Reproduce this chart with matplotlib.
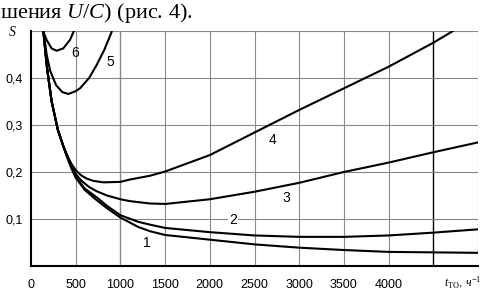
import numpy as np
import matplotlib.pyplot as plt

plt.rcParams['font.family'] = ['Liberation Sans', 'DejaVu Sans']
plt.rcParams['mathtext.fontset'] = 'custom'
plt.rcParams['mathtext.rm'] = 'Liberation Serif'
plt.rcParams['mathtext.it'] = 'Liberation Serif:italic'

# curves 1-4 share the steep left branch
x_left = [138, 180, 231, 300, 361]
y_left = [0.50, 0.42, 0.35, 0.29, 0.255]

c1_x = x_left + [400, 450, 500, 600, 735, 850, 1000, 1200, 1331, 1500, 2000, 2500, 3000, 3500, 4000, 4500, 5000]
c1_y = y_left + [0.234, 0.209, 0.188, 0.162, 0.140, 0.123, 0.103, 0.083, 0.074, 0.066, 0.056, 0.046, 0.039, 0.034, 0.030, 0.029, 0.028]

c2_x = x_left + [400, 450, 500, 600, 735, 850, 1000, 1200, 1331, 1500, 2000, 2500, 3000, 3500, 4000, 4500, 5000]
c2_y = y_left + [0.234, 0.210, 0.190, 0.165, 0.146, 0.128, 0.108, 0.094, 0.088, 0.081, 0.072, 0.065, 0.062, 0.062, 0.065, 0.071, 0.078]

c3_x = x_left + [400, 450, 500, 560, 650, 735, 850, 1000, 1107, 1331, 1500, 2000, 2500, 3000, 3500, 4000, 4500, 5000]
c3_y = y_left + [0.236, 0.213, 0.196, 0.182, 0.168, 0.159, 0.150, 0.142, 0.138, 0.133, 0.132, 0.142, 0.158, 0.177, 0.200, 0.220, 0.242, 0.263]

c4_x = x_left + [400, 450, 500, 560, 623, 700, 809, 1000, 1107, 1331, 1500, 2000, 2500, 3000, 3500, 4000, 4500, 4720]
c4_y = y_left + [0.238, 0.218, 0.204, 0.193, 0.186, 0.181, 0.178, 0.179, 0.184, 0.192, 0.201, 0.236, 0.284, 0.332, 0.378, 0.424, 0.475, 0.500]

c5_x = [140, 175, 215, 280, 350, 418, 500, 548, 650, 735, 820, 902]
c5_y = [0.500, 0.450, 0.415, 0.385, 0.370, 0.366, 0.372, 0.378, 0.400, 0.428, 0.460, 0.498]

c6_x = [134, 175, 230, 287, 361, 436, 480]
c6_y = [0.500, 0.481, 0.463, 0.458, 0.463, 0.481, 0.500]

curve_names = ['1', '2', '3', '4', '5', '6']
label_x = [1298, 2260, 2852, 2696, 884, 492]
label_y = [0.049, 0.098, 0.145, 0.268, 0.434, 0.453]

xticks = [0, 500, 1000, 1500, 2000, 2500, 3000, 3500, 4000]
yticks = [0.1, 0.2, 0.3, 0.4]
ytick_labels = ['0,1', '0,2', '0,3', '0,4']

fig = plt.figure(figsize=(4.82, 2.91), dpi=100)
ax = fig.add_axes([31/482, 1 - 266/291, 447/482, 235/291])

# grid
for gx in range(500, 5001, 500):
    col = 'black' if gx == 4500 else '#888888'
    lw = 1.0 if gx in (1000, 4500) else 0.8
    ax.axvline(gx, color=col, lw=lw, zorder=1)
for gy in [0.1, 0.2, 0.3, 0.4, 0.5]:
    ax.axhline(gy, color='#888888', lw=0.8, zorder=1)

for xs, ys in [(c1_x, c1_y), (c2_x, c2_y), (c3_x, c3_y), (c4_x, c4_y), (c5_x, c5_y), (c6_x, c6_y)]:
    ax.plot(xs, ys, color='black', lw=1.5, zorder=3, solid_joinstyle='round')

for name, lx, ly in zip(curve_names, label_x, label_y):
    bbox = dict(facecolor='white', edgecolor='none', pad=1) if name == '2' else None
    ax.text(lx, ly, name, fontsize=10, ha='center', va='center', zorder=4, bbox=bbox)

ax.set_xlim(0, 5000)
ax.set_ylim(0, 0.5)
ax.set_xticks(xticks)
ax.set_xticklabels([str(t) for t in xticks])
ax.set_yticks(yticks)
ax.set_yticklabels(ytick_labels)
ax.tick_params(length=0, labelsize=9)
ax.tick_params(axis='x', pad=9)
ax.tick_params(axis='y', pad=6)
for s in ['top', 'right']:
    ax.spines[s].set_visible(False)
ax.spines['left'].set_linewidth(1.5)
ax.spines['bottom'].set_linewidth(1.5)

fig.text(12/482, 1 - 32/291, 'S', fontsize=10, family='Liberation Serif',
         style='italic', ha='center', va='center')
fig.text(463/482, 1 - 283/291, r'$t_{\mathrm{ТО}}$, $ч^{-1}$', fontsize=8.5,
         ha='center', va='center')
fig.text(0, 0.997, r'шения $U/C$) (рис. 4).', fontsize=16,
         family='Liberation Serif', ha='left', va='top')

fig.savefig('out.png', dpi=100)
